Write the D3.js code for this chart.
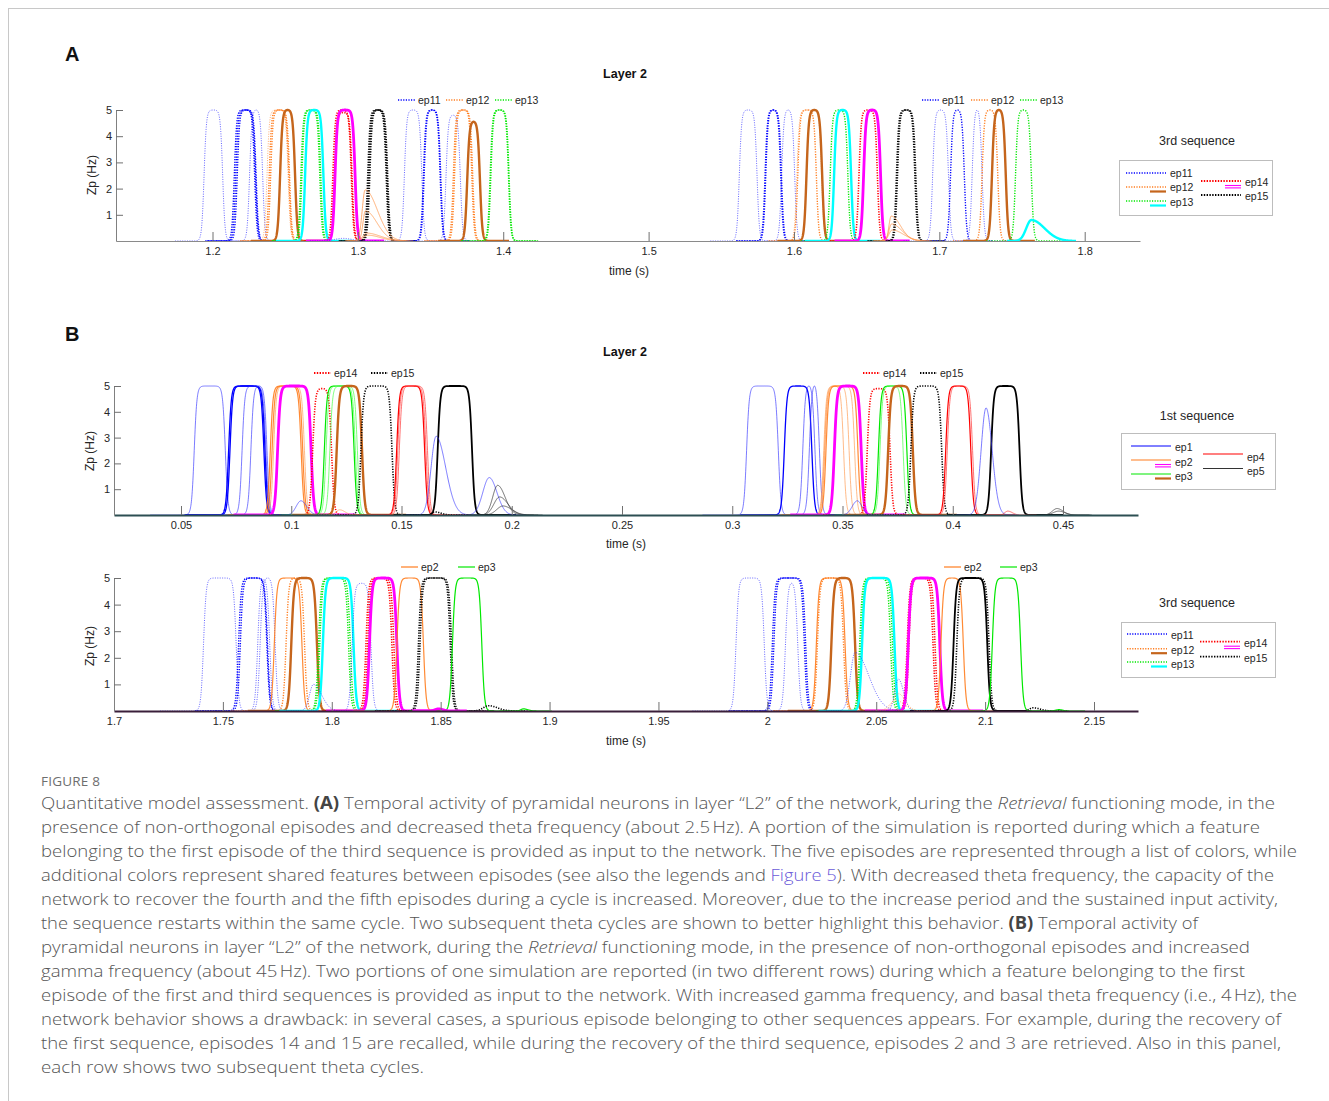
<!DOCTYPE html>
<html><head><meta charset="utf-8">
<script src="https://cdn.jsdelivr.net/npm/d3@7"></script>
<style>
html,body{margin:0;padding:0;background:#fff;}
svg{display:block;}
</style></head>
<body>
<script>
// ---------------- DATA ----------------
const yTicks = [1, 2, 3, 4, 5];
const ticksA = [1.2, 1.3, 1.4, 1.5, 1.6, 1.7, 1.8];
const ticksB1 = [0.05, 0.1, 0.15, 0.2, 0.25, 0.3, 0.35, 0.4, 0.45];
const ticksB2 = [1.7, 1.75, 1.8, 1.85, 1.9, 1.95, 2, 2.05, 2.1, 2.15];

// pulses: [series, onset (s), offset (s), peak Zp (Hz)]
const pulsesA = [
 ["ep11t",1.1942,1.2070,5],["ep11",1.2150,1.2290,5],["ep11",1.2160,1.2296,5],["ep11",1.2170,1.2300,5],
 ["ep11t",1.2255,1.2345,5],["ep12t",1.2375,1.2520,5],["ep12",1.2390,1.2525,5],["ep12",1.2400,1.2530,5],
 ["ep12s",1.2465,1.2568,5],["ep13",1.2608,1.2738,5],["ep13",1.2615,1.2745,5],["ep13s",1.2637,1.2763,5],
 ["ep14",1.2828,1.2955,5],["ep14",1.2838,1.2960,4.9],["ep14s",1.2843,1.2981,5],
 ["ep15",1.3068,1.3195,5],["ep15",1.3075,1.3200,5],["ep15",1.3082,1.3205,5],
 ["ep11t",1.3320,1.3440,5],["ep11",1.3451,1.3566,5],["ep11",1.3456,1.3570,5],["ep11t",1.3606,1.3705,4.8],
 ["ep12",1.3657,1.3784,5],["ep12",1.3665,1.3790,5],["ep12s",1.3752,1.3840,4.55],
 ["ep13",1.3910,1.4036,5],["ep13",1.3915,1.4040,5],
 ["ep11t",1.5624,1.5746,5],["ep11",1.5801,1.5909,5],["ep11",1.5806,1.5914,5],["ep11t",1.5915,1.6005,5],
 ["ep12",1.6026,1.6154,5],["ep12t",1.6020,1.6190,5],["ep12s",1.6086,1.6194,5],
 ["ep13",1.6249,1.6371,5],["ep13s",1.6276,1.6393,5],
 ["ep14",1.6447,1.6574,5],["ep14s",1.6479,1.6596,5],
 ["ep15",1.6705,1.6832,5],["ep15",1.6712,1.6838,5],
 ["ep11t",1.6954,1.7063,5],["ep11",1.7077,1.7172,5],["ep11t",1.7226,1.7294,5],
 ["ep12",1.7294,1.7402,5],["ep12s",1.7362,1.7457,5],["ep13",1.7524,1.7633,5]
];
// bumps: [series, start, peak time, end, peak]
const bumpsA = [
 ["othin",1.3000,1.3050,1.3260,1.95],["othin",1.3010,1.3052,1.3250,1.15],
 ["othin",1.2995,1.3060,1.3300,0.3],["othin",1.2990,1.3070,1.3280,0.22],
 ["othin",1.6630,1.6669,1.6830,0.95],["othin",1.6625,1.6672,1.6850,0.65],["othin",1.6620,1.6675,1.6870,0.42],
 ["ep13s",1.7545,1.7633,1.7860,0.8],["ep11t",1.2750,1.2900,1.3050,0.1]
];

const pulsesB1 = [
 ["ep1t",0.0560,0.0701,5],["ep1",0.0716,0.0881,5],["ep1",0.0722,0.0876,5],["ep1t",0.0777,0.0885,5],["ep1t",0.0817,0.0890,5],
 ["ep2",0.0905,0.1045,5],["ep2",0.0913,0.1052,5],["ep2t",0.0920,0.1060,5],["ep2s",0.0938,0.1090,5],
 ["ep14",0.1097,0.1183,4.9],
 ["ep3",0.1150,0.1285,5],["ep3t",0.1158,0.1291,5],["ep3t",0.1175,0.1300,5],["ep3s",0.1206,0.1321,5],
 ["ep15",0.1316,0.1457,5],
 ["ep4",0.1478,0.1605,5],["ep4t",0.1483,0.1611,5],["ep4t",0.1490,0.1618,5],
 ["ep5",0.1664,0.1820,5],
 ["ep1t",0.3065,0.3209,5],["ep1",0.3236,0.3361,5],["ep1t",0.3320,0.3375,5],["ep1t",0.3350,0.3395,5],
 ["ep2t",0.3415,0.3505,5],["ep2t",0.3418,0.3530,5],["ep2t",0.3420,0.3555,5],["ep2",0.3425,0.3570,5],["ep2s",0.3463,0.3585,5],
 ["ep14",0.3612,0.3716,4.9],
 ["ep3",0.3663,0.3792,5],["ep3t",0.3670,0.3775,5],["ep3s",0.3707,0.3819,5],
 ["ep15",0.3810,0.3950,5],
 ["ep4",0.3968,0.4082,5],["ep4t",0.3975,0.4090,5],
 ["ep5",0.4174,0.4303,5]
];
const bumpsB1 = [
 ["ep1t",0.0990,0.1044,0.1110,0.55],["ep1t",0.1600,0.1657,0.1765,3.05],["ep1t",0.1825,0.1898,0.1985,1.45],
 ["ep5t",0.1880,0.1936,0.2020,1.15],["ep5t",0.1880,0.1945,0.2040,0.7],["ep5t",0.1890,0.1960,0.2060,0.35],
 ["ep2t",0.1180,0.1220,0.1280,0.2],["ep1t",0.3510,0.3567,0.3620,0.55],["ep1t",0.4095,0.4151,0.4220,4.15],
 ["ep5t",0.4420,0.4473,0.4540,0.25],["ep5t",0.4420,0.4480,0.4550,0.15],["ep4t",0.4215,0.4250,0.4300,0.15],
 ["ep15",0.1620,0.1650,0.1720,0.12]
];

const pulsesB2 = [
 ["ep11t",1.7411,1.7561,5],["ep11",1.7572,1.7702,5],["ep11",1.7580,1.7705,5],["ep11t",1.7671,1.7740,5],["ep11t",1.7660,1.7715,4.95],
 ["ep2",1.7736,1.7863,5],["ep12",1.7790,1.7875,5],["ep12s",1.7814,1.7932,5],
 ["ep13",1.7939,1.8077,5],["ep13",1.7945,1.8085,5],["ep13s",1.7959,1.8100,5],
 ["ep11t",1.8093,1.8180,4.8],
 ["ep14",1.8157,1.8276,5],["ep14",1.8165,1.8285,5],["ep14s",1.8173,1.8299,5],
 ["ep2",1.8299,1.8421,5],["ep15",1.8398,1.8544,5],["ep15",1.8405,1.8550,5],["ep3",1.8554,1.8689,5],
 ["ep11t",1.9856,1.9986,5],["ep11",2.0023,2.0176,5],["ep11",2.0030,2.0170,5],["ep11t",2.0083,2.0140,4.8],
 ["ep2",2.0225,2.0357,5],["ep12",2.0230,2.0350,5],["ep12s",2.0294,2.0403,5],
 ["ep13",2.0424,2.0566,5],["ep13",2.0430,2.0575,5],["ep13s",2.0435,2.0584,5],
 ["ep14",2.0642,2.0761,5],["ep14",2.0650,2.0770,5],["ep14s",2.0647,2.0792,5],
 ["ep2",2.0797,2.0900,5],["ep5",2.0855,2.1010,5],["ep15",2.0870,2.1018,5],["ep3",2.1033,2.1163,5]
];
const bumpsB2 = [
 ["ep11t",1.7870,1.7916,1.8010,1.0],["ep15",1.8660,1.8720,1.8820,0.2],["ep14s",1.8450,1.8490,1.8540,0.08],
 ["ep3",1.8850,1.8880,1.8930,0.08],["ep11t",2.0350,2.0403,2.0560,2.2],["ep11t",2.0560,2.0602,2.0660,1.2],
 ["ep12t",2.0540,2.0602,2.0680,0.65],["ep12t",2.0520,2.0590,2.0690,0.4],["ep15",2.1180,2.1220,2.1300,0.12],
 ["ep3",2.1300,2.1340,2.1380,0.05]
];

const legendTopA = ["ep11", "ep12", "ep13"];
const legendTopB1 = ["ep14", "ep15"];
const legendTopB2 = ["ep2", "ep3"];

const captionHead = "FIGURE 8";
const captionLines = [
 [["Quantitative model assessment. ",""],["(A)","b"],[" Temporal activity of pyramidal neurons in layer “L2” of the network, during the ",""],["Retrieval","i"],[" functioning mode, in the",""]],
 [["presence of non-orthogonal episodes and decreased theta frequency (about 2.5\u202FHz). A portion of the simulation is reported during which a feature",""]],
 [["belonging to the first episode of the third sequence is provided as input to the network. The five episodes are represented through a list of colors, while",""]],
 [["additional colors represent shared features between episodes (see also the legends and ",""],["Figure 5","l"],["). With decreased theta frequency, the capacity of the",""]],
 [["network to recover the fourth and the fifth episodes during a cycle is increased. Moreover, due to the increase period and the sustained input activity,",""]],
 [["the sequence restarts within the same cycle. Two subsequent theta cycles are shown to better highlight this behavior. ",""],["(B)","b"],[" Temporal activity of",""]],
 [["pyramidal neurons in layer “L2” of the network, during the ",""],["Retrieval","i"],[" functioning mode, in the presence of non-orthogonal episodes and increased",""]],
 [["gamma frequency (about 45\u202FHz). Two portions of one simulation are reported (in two different rows) during which a feature belonging to the first",""]],
 [["episode of the first and third sequences is provided as input to the network. With increased gamma frequency, and basal theta frequency (i.e., 4\u202FHz), the",""]],
 [["network behavior shows a drawback: in several cases, a spurious episode belonging to other sequences appears. For example, during the recovery of",""]],
 [["the first sequence, episodes 14 and 15 are recalled, while during the recovery of the third sequence, episodes 2 and 3 are retrieved. Also in this panel,",""]],
 [["each row shows two subsequent theta cycles.",""]]
];

// ---------------- STYLES ----------------
const ORANGE = "#ff7d1f", BROWN = "#c5651c", GREEN = "#00e800", BLUE = "#0000ff";
const styles = {
 ep11:  {c:BLUE, d:"1.2,1.4", w:1.4, o:1},
 ep11t: {c:"#2020ff", d:"1,1.4", w:1.0, o:0.7},
 ep12:  {c:ORANGE, d:"1.2,1.4", w:1.4, o:1},
 ep12t: {c:"#ff9a50", d:"1,1.4", w:1.0, o:0.8},
 ep12s: {c:BROWN, d:null, w:2.4, o:1},
 ep13:  {c:GREEN, d:"1.2,1.4", w:1.4, o:1},
 ep13s: {c:"#00ffff", d:null, w:2.4, o:1},
 ep14:  {c:"#ff0000", d:"1.2,1.4", w:1.6, o:1},
 ep14s: {c:"#ff00ff", d:null, w:2.8, o:1},
 ep15:  {c:"#000000", d:"1.2,1.4", w:1.6, o:1},
 othin: {c:"#ff9a50", d:null, w:0.9, o:0.9},
 ep1:   {c:BLUE, d:null, w:1.3, o:1},
 ep1t:  {c:"#3030ff", d:null, w:0.8, o:0.8},
 ep2:   {c:ORANGE, d:null, w:1.2, o:0.9},
 ep2t:  {c:"#ff9a50", d:null, w:0.8, o:0.85},
 ep2s:  {c:"#ff00ff", d:null, w:2.8, o:1},
 ep3:   {c:GREEN, d:null, w:1.2, o:1},
 ep3t:  {c:"#40ff40", d:null, w:0.8, o:0.85},
 ep3s:  {c:BROWN, d:null, w:2.4, o:1},
 ep4:   {c:"#ff0000", d:null, w:1.2, o:1},
 ep4t:  {c:"#ff3030", d:null, w:0.8, o:0.85},
 ep5:   {c:"#000000", d:null, w:1.8, o:1},
 ep5t:  {c:"#202020", d:null, w:0.8, o:0.8}
};
const legendStyle = {
 ep11:{c:BLUE,d:"1.2,1.4",w:1.5}, ep12:{c:ORANGE,d:"1.2,1.4",w:1.5}, ep13:{c:GREEN,d:"1.2,1.4",w:1.5},
 ep14:{c:"#ff0000",d:"1.4,1.4",w:1.8}, ep15:{c:"#000",d:"1.4,1.4",w:1.8},
 ep1:{c:BLUE,d:null,w:1}, ep2:{c:ORANGE,d:null,w:1.2}, ep3:{c:GREEN,d:null,w:1.2},
 ep4:{c:"#ff0000",d:null,w:1.2}, ep5:{c:"#333",d:null,w:1.2}
};

const FONT = "'Liberation Sans', Arial, Helvetica, sans-serif";
const W = 1329, H = 1101;
const svg = d3.select("body").append("svg").attr("width", W).attr("height", H)
  .style("font-family", FONT);

// frame
svg.append("line").attr("x1",8).attr("x2",W).attr("y1",8.5).attr("y2",8.5).attr("stroke","#c8c8c8");
svg.append("line").attr("x1",8.5).attr("x2",8.5).attr("y1",8).attr("y2",H).attr("stroke","#c8c8c8");

svg.append("text").attr("x",65).attr("y",61).text("A").attr("font-size",20).attr("font-weight","bold").attr("fill","#111");
svg.append("text").attr("x",65).attr("y",341).text("B").attr("font-size",20).attr("font-weight","bold").attr("fill","#111");

function pulsePoints(on, off, h, k, dom) {
  const a = Math.max(dom[0], on - 0.02), b = Math.min(dom[1], off + 0.02);
  const raw = [];
  for (let t = a; t <= b; t += 0.0001) {
    const r = 1 / (1 + Math.exp(-(t - on) / k));
    const f = 1 / (1 + Math.exp((t - off) / k));
    raw.push([t, r * f]);
  }
  const m = d3.max(raw, d => d[1]);
  return raw.map(d => [d[0], h * d[1] / m]);
}
function bumpPoints(s, tp, e, h, dom) {
  const sl = (tp - s) / 2.5, sr = (e - tp) / 2.5;
  const a = Math.max(dom[0], s - 0.008), b = Math.min(dom[1], e + 0.008);
  const raw = [];
  for (let t = a; t <= b; t += 0.0001) {
    const sg = t < tp ? sl : sr;
    raw.push([t, h * Math.exp(-0.5 * ((t - tp) / sg) ** 2)]);
  }
  return raw;
}

function drawPanel(cfg, idx) {
  const x = d3.scaleLinear().domain(cfg.anchor).range(cfg.anchorPx);
  x.domain([x.invert(cfg.x0), x.invert(cfg.x1)]).range([cfg.x0, cfg.x1]);
  const y = d3.scaleLinear().domain([0, 5]).range([cfg.yBase, cfg.yTop]);
  const dom = x.domain();
  const g = svg.append("g");
  const clipId = "clip" + idx;
  svg.append("clipPath").attr("id", clipId).append("rect")
    .attr("x", cfg.x0).attr("y", cfg.yTop - 3).attr("width", cfg.x1 - cfg.x0).attr("height", cfg.yBase - cfg.yTop + 4);

  const line = d3.line().x(d => x(d[0])).y(d => y(d[1]));
  const tg = g.append("g").attr("clip-path", `url(#${clipId})`);
  const draw = (key, pts) => {
    const s = styles[key];
    tg.append("path").attr("d", line(pts)).attr("fill", "none")
      .attr("stroke", s.c).attr("stroke-width", s.w).attr("stroke-opacity", s.o)
      .attr("stroke-dasharray", s.d).attr("stroke-linejoin", "round");
  };
  cfg.pulses.forEach(p => draw(p[0], pulsePoints(p[1], p[2], p[3], cfg.k, dom)));
  cfg.bumps.forEach(b => draw(b[0], bumpPoints(b[1], b[2], b[3], b[4], dom)));

  // axes (drawn after the traces so the zero line shows like the stacked baselines)
  const ax = g.append("g").attr("transform", `translate(0,${cfg.yBase})`)
    .call(d3.axisBottom(x).tickValues(cfg.ticks).tickFormat(d => String(+d.toFixed(2))).tickSizeInner(-9).tickSizeOuter(0).tickPadding(6));
  const ay = g.append("g").attr("transform", `translate(${cfg.x0},0)`)
    .call(d3.axisLeft(y).tickValues(yTicks).tickFormat(d3.format("d")).tickSizeInner(-7).tickSizeOuter(0).tickPadding(4));
  [ax, ay].forEach(a => {
    a.select(".domain").attr("stroke", "#808080");
    a.selectAll(".tick line").attr("stroke", "#707070");
    a.selectAll("text").attr("fill", "#262626").attr("font-size", 11).attr("font-family", FONT);
  });
  ax.select(".domain").attr("stroke", cfg.baseColor).attr("stroke-width", cfg.baseWidth);

  // labels
  if (cfg.title) svg.append("text").attr("x", 625).attr("y", cfg.title).attr("text-anchor", "middle")
    .attr("font-size", 12.5).attr("font-weight", "bold").attr("fill", "#111").text("Layer 2");
  svg.append("text").attr("x", cfg.xlab[0]).attr("y", cfg.xlab[1]).attr("text-anchor", "middle")
    .attr("font-size", 12).attr("fill", "#262626").text("time (s)");
  svg.append("text").attr("transform", `translate(${cfg.ylab[0]},${cfg.ylab[1]}) rotate(-90)`)
    .attr("text-anchor", "middle").attr("font-size", 12).attr("fill", "#262626").text("Zp (Hz)");

  // top legends (two copies)
  cfg.topLegendX.forEach(xs => {
    cfg.topLegend.forEach((k, i) => {
      const st = legendStyle[k];
      svg.append("line").attr("x1", xs[i]).attr("x2", xs[i] + 17).attr("y1", cfg.topLegendY).attr("y2", cfg.topLegendY)
        .attr("stroke", st.c).attr("stroke-width", st.w).attr("stroke-dasharray", st.d);
      svg.append("text").attr("x", xs[i] + 20).attr("y", cfg.topLegendY + 4).attr("font-size", 10.5)
        .attr("fill", "#262626").text(k);
    });
  });

  // side legend
  const L = cfg.side;
  svg.append("text").attr("x", 1197).attr("y", L.titleY).attr("text-anchor", "middle")
    .attr("font-size", 12.5).attr("fill", "#262626").text(L.title);
  svg.append("rect").attr("x", L.box[0] + 0.5).attr("y", L.box[1] + 0.5).attr("width", L.box[2]).attr("height", L.box[3])
    .attr("fill", "#fff").attr("stroke", "#bdbdbd");
  L.items.forEach(it => {
    const st = legendStyle[it.k];
    svg.append("line").attr("x1", it.x).attr("x2", it.x + 40).attr("y1", it.y).attr("y2", it.y)
      .attr("stroke", st.c).attr("stroke-width", st.w).attr("stroke-dasharray", st.d);
    if (it.sub) {
      const ss = styles[it.sub];
      if (it.sub === "ep14s" || it.sub === "ep2s") {
        [0, 2.4].forEach(o => svg.append("line").attr("x1", it.x + 24).attr("x2", it.x + 40)
          .attr("y1", it.y + 4.5 + o).attr("y2", it.y + 4.5 + o).attr("stroke", ss.c).attr("stroke-width", 1.1));
      } else {
        svg.append("line").attr("x1", it.x + 24).attr("x2", it.x + 40).attr("y1", it.y + 4.5).attr("y2", it.y + 4.5)
          .attr("stroke", ss.c).attr("stroke-width", 2.2);
      }
    }
    svg.append("text").attr("x", it.x + 44).attr("y", it.ty).attr("font-size", 10.5).attr("fill", "#262626").text(it.k);
  });
}

drawPanel({
  x0: 116, x1: 1140, yTop: 110, yBase: 241, anchor: [1.2, 1.8], anchorPx: [212.5, 1084.7],
  ticks: ticksA, pulses: pulsesA, bumps: bumpsA, k: 0.0008, baseColor: "#8a8a8a", baseWidth: 1.2,
  title: 78, xlab: [629, 275], ylab: [96, 175],
  topLegend: legendTopA, topLegendY: 100, topLegendX: [[398, 446, 495], [922, 971, 1020]],
  side: { title: "3rd sequence", titleY: 145, box: [1119, 160, 153, 55], items: [
    {k:"ep11", x:1126, y:173, ty:177}, {k:"ep12", x:1126, y:187, ty:191, sub:"ep12s"},
    {k:"ep13", x:1126, y:201, ty:206, sub:"ep13s"},
    {k:"ep14", x:1201, y:181, ty:186, sub:"ep14s"}, {k:"ep15", x:1201, y:195, ty:200}]}
}, 0);

drawPanel({
  x0: 114, x1: 1138, yTop: 386, yBase: 515, anchor: [0.05, 0.45], anchorPx: [181, 1063],
  ticks: ticksB1, pulses: pulsesB1, bumps: bumpsB1, k: 0.0006, baseColor: "#2c4f52", baseWidth: 2,
  title: 356, xlab: [626, 548], ylab: [94, 451],
  topLegend: legendTopB1, topLegendY: 373, topLegendX: [[314, 371], [863, 920]],
  side: { title: "1st sequence", titleY: 420, box: [1121, 433, 154, 56], items: [
    {k:"ep1", x:1131, y:446, ty:451}, {k:"ep2", x:1131, y:460, ty:465.5, sub:"ep2s"},
    {k:"ep3", x:1131, y:474, ty:480, sub:"ep3s"},
    {k:"ep4", x:1203, y:454, ty:460.5}, {k:"ep5", x:1203, y:468.5, ty:475}]}
}, 1);

drawPanel({
  x0: 114, x1: 1138, yTop: 578, yBase: 711, anchor: [1.7, 2.15], anchorPx: [114, 1094],
  ticks: ticksB2, pulses: pulsesB2, bumps: bumpsB2, k: 0.0006, baseColor: "#3a1f3a", baseWidth: 2,
  title: null, xlab: [626, 745], ylab: [94, 646],
  topLegend: legendTopB2, topLegendY: 567, topLegendX: [[401, 458], [944, 1000]],
  side: { title: "3rd sequence", titleY: 607, box: [1121, 622, 154, 55], items: [
    {k:"ep11", x:1127, y:634, ty:639}, {k:"ep12", x:1127, y:648.7, ty:654, sub:"ep12s"},
    {k:"ep13", x:1127, y:662, ty:668, sub:"ep13s"},
    {k:"ep14", x:1200, y:641.7, ty:647, sub:"ep14s"}, {k:"ep15", x:1200, y:656.7, ty:661.5}]}
}, 2);

// ---------------- CAPTION ----------------
const CAP = "'Open Sans', 'Noto Sans', sans-serif";
svg.append("text").attr("x", 41).attr("y", 786).attr("font-family", CAP).attr("font-size", 13.5)
  .attr("fill", "#6e6e6e").attr("letter-spacing", 0.2).text(captionHead);
const lineEnds = [1275, 1260, 1297, 1274, 1278, 1198, 1250, 1245, 1297, 1281, 1281, 424];
captionLines.forEach((segs, i) => {
  const t = svg.append("text").attr("x", 41).attr("y", 809 + i * 24).attr("font-family", CAP)
    .attr("font-size", 17).attr("font-weight", 300).attr("fill", "#555")
    .attr("textLength", lineEnds[i] - 41).attr("lengthAdjust", "spacingAndGlyphs");
  segs.forEach(([txt, st]) => {
    const sp = t.append("tspan").text(txt);
    if (st === "b") sp.attr("font-weight", 700).attr("fill", "#444");
    if (st === "i") sp.attr("font-style", "italic");
    if (st === "l") sp.attr("fill", "#6a5ad8");
  });
});
</script>
</body></html>
